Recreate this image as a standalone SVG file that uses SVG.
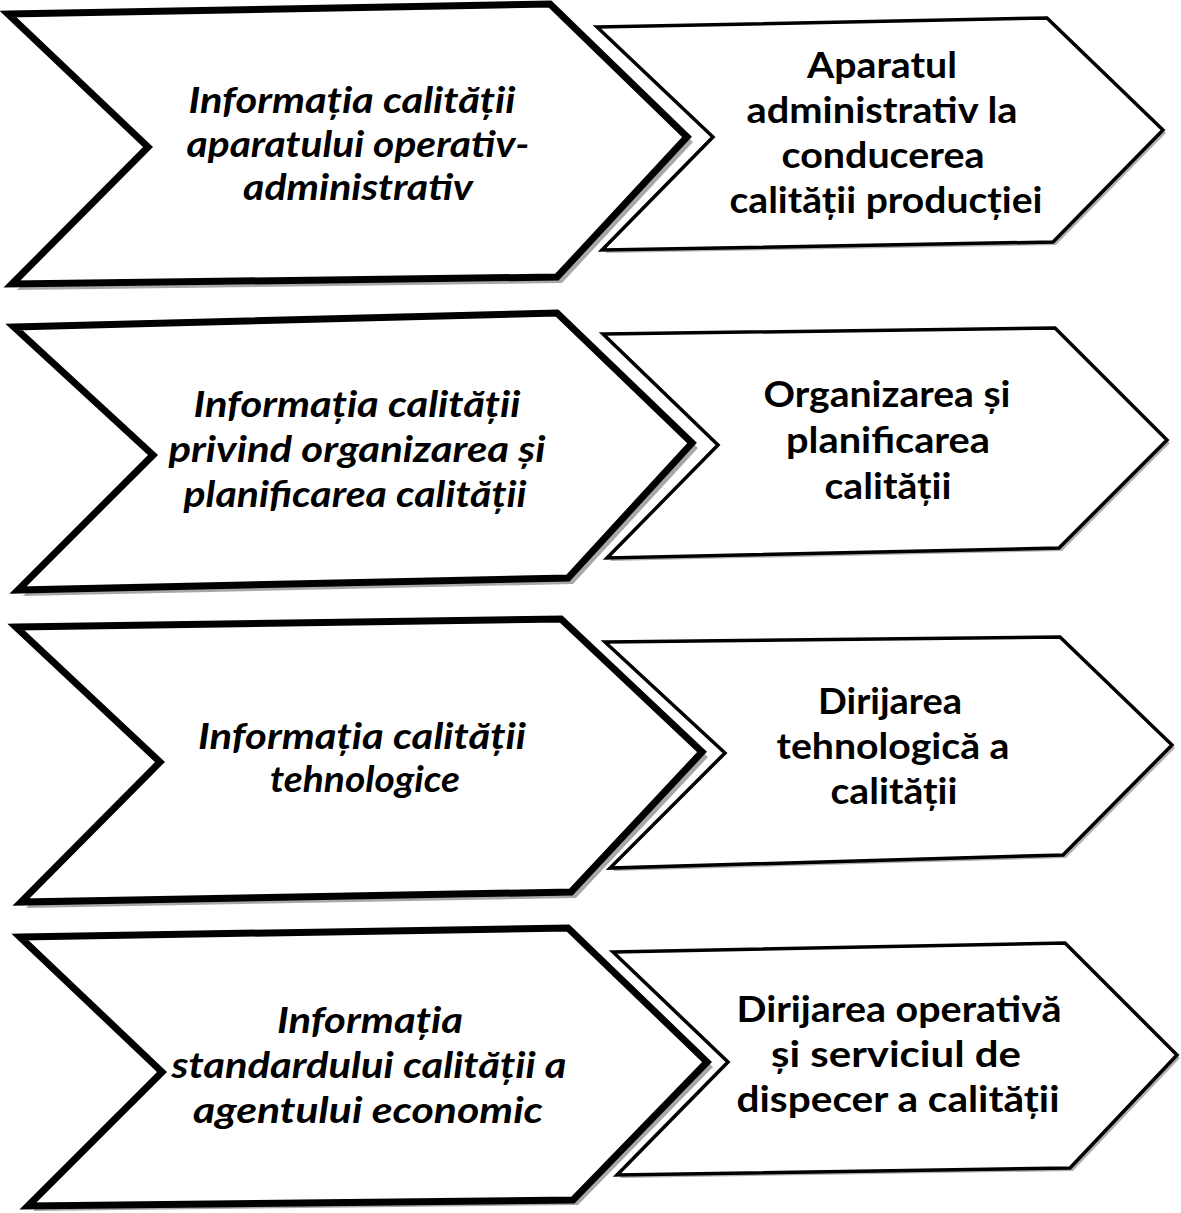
<svg xmlns="http://www.w3.org/2000/svg" width="1181" height="1213" viewBox="0 0 1181 1213">
<style>
.bg{fill:#ffffff}
.lsh{fill:#a8a8a8}
.rsh{fill:#b0b0b0}
.lc{fill:#ffffff;stroke:#000;stroke-width:7;stroke-linejoin:miter}
.rc{fill:#ffffff;stroke:#000;stroke-width:3.5;stroke-linejoin:miter}
.lt{font-family:Lato,"Open Sans","Liberation Sans",sans-serif;font-weight:bold;font-style:italic;font-size:37px;fill:#000;text-anchor:middle}
.rt{font-family:Lato,"Open Sans","Liberation Sans",sans-serif;font-weight:bold;font-size:37px;fill:#000;text-anchor:middle}
</style>
<rect class="bg" x="0" y="0" width="1181" height="1213"/>

<g id="connectors"></g>

<!-- Row 1 -->
<g id="left1">
<polygon class="lsh" points="13,19 555,9 693,142 562,283 17,290 153,152"/>
<polygon class="lc" points="8,14 550,4 687,137 557,277 12,284 148,147"/>
<text class="lt" x="352" y="113" textLength="327" lengthAdjust="spacingAndGlyphs">Informația calității</text>
<text class="lt" x="358" y="157" textLength="343" lengthAdjust="spacingAndGlyphs">aparatului operativ-</text>
<text class="lt" x="358" y="200" textLength="230" lengthAdjust="spacingAndGlyphs">administrativ</text>
</g>
<g id="right1">
<polygon class="rsh" points="600,30 1050,21 1166,133 1056,245 605,253 716,140"/>
<polygon class="rc" points="597,27 1047,18 1163,130 1053,242 602,250 713,137"/>
<text class="rt" x="882" y="78" textLength="150" lengthAdjust="spacingAndGlyphs">Aparatul</text>
<text class="rt" x="882" y="123" textLength="271" lengthAdjust="spacingAndGlyphs">administrativ la</text>
<text class="rt" x="883" y="168" textLength="203" lengthAdjust="spacingAndGlyphs">conducerea</text>
<text class="rt" x="886" y="213" textLength="313" lengthAdjust="spacingAndGlyphs">calității producției</text>
</g>

<!-- Row 2 -->
<g id="left2">
<polygon class="lsh" points="19,332 562,318 698,448 573,584 23,596 158,460"/>
<polygon class="lc" points="14,327 557,313 692,443 568,578 18,590 153,455"/>
<text class="lt" x="357" y="417" textLength="327" lengthAdjust="spacingAndGlyphs">Informația calității</text>
<text class="lt" x="357" y="462" textLength="377" lengthAdjust="spacingAndGlyphs">privind organizarea și</text>
<text class="lt" x="355" y="507" textLength="343" lengthAdjust="spacingAndGlyphs">planificarea calității</text>
</g>
<g id="right2">
<polygon class="rsh" points="606,337 1058,331 1170,443 1062,551 610,561 721,448"/>
<polygon class="rc" points="603,334 1055,328 1167,440 1059,548 607,558 718,445"/>
<text class="rt" x="887" y="407" textLength="247" lengthAdjust="spacingAndGlyphs">Organizarea și</text>
<text class="rt" x="888" y="453" textLength="204" lengthAdjust="spacingAndGlyphs">planificarea</text>
<text class="rt" x="888" y="499" textLength="127" lengthAdjust="spacingAndGlyphs">calității</text>
</g>

<!-- Row 3 -->
<g id="left3">
<polygon class="lsh" points="21,632 566,624 708,757 576,898 26,908 165,767"/>
<polygon class="lc" points="16,627 561,619 702,752 571,892 21,902 160,762"/>
<text class="lt" x="362" y="749" textLength="328" lengthAdjust="spacingAndGlyphs">Informația calității</text>
<text class="lt" x="365" y="792" textLength="190" lengthAdjust="spacingAndGlyphs">tehnologice</text>
</g>
<g id="right3">
<polygon class="rsh" points="608,645 1063,640 1175,748 1066,858 613,871 728,756"/>
<polygon class="rc" points="605,642 1060,637 1172,745 1063,855 610,868 725,753"/>
<text class="rt" x="890" y="714" textLength="144" lengthAdjust="spacingAndGlyphs">Dirijarea</text>
<text class="rt" x="893" y="759" textLength="233" lengthAdjust="spacingAndGlyphs">tehnologică a</text>
<text class="rt" x="894" y="804" textLength="127" lengthAdjust="spacingAndGlyphs">calității</text>
</g>

<!-- Row 4 -->
<g id="left4">
<polygon class="lsh" points="25,942 573,933 713,1067 578,1205 33,1211 167,1077"/>
<polygon class="lc" points="20,937 568,928 707,1062 573,1200 28,1206 162,1072"/>
<text class="lt" x="370" y="1033" textLength="186" lengthAdjust="spacingAndGlyphs">Informația</text>
<text class="lt" x="369" y="1078" textLength="395" lengthAdjust="spacingAndGlyphs">standardului calității a</text>
<text class="lt" x="368" y="1123" textLength="350" lengthAdjust="spacingAndGlyphs">agentului economic</text>
</g>
<g id="right4">
<polygon class="rsh" points="616,955 1068,946 1180,1058 1073,1171 620,1178 731,1065"/>
<polygon class="rc" points="613,952 1065,943 1177,1055 1070,1168 617,1175 728,1062"/>
<text class="rt" x="899" y="1022" textLength="325" lengthAdjust="spacingAndGlyphs">Dirijarea operativă</text>
<text class="rt" x="896" y="1067" textLength="250" lengthAdjust="spacingAndGlyphs">și serviciul de</text>
<text class="rt" x="898" y="1112" textLength="323" lengthAdjust="spacingAndGlyphs">dispecer a calității</text>
</g>
</svg>
